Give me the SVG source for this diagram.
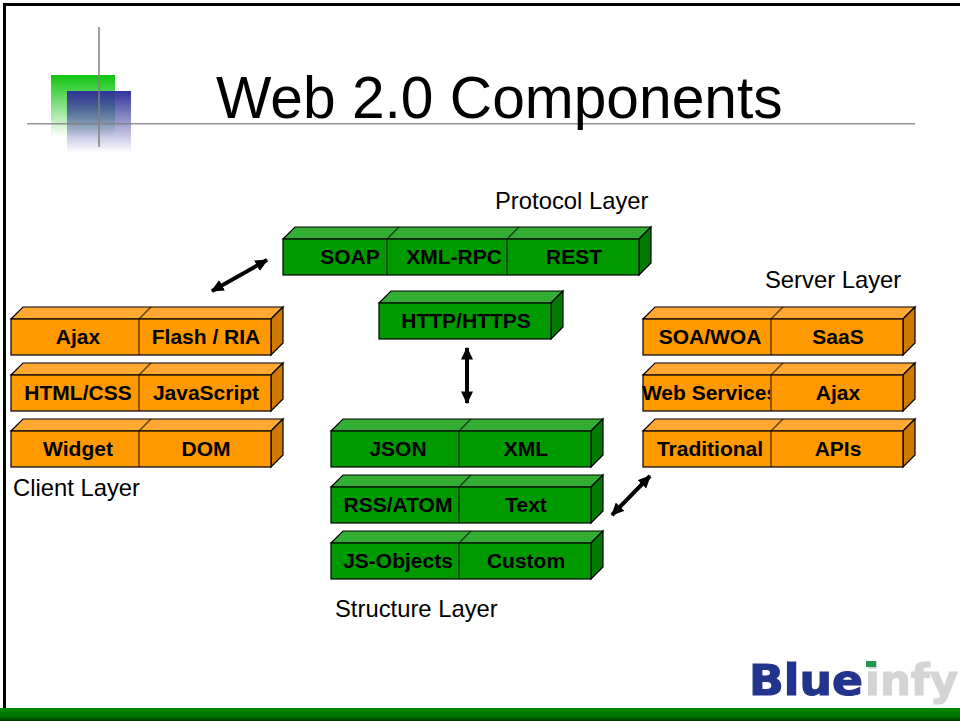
<svg xmlns="http://www.w3.org/2000/svg" width="960" height="721" viewBox="0 0 960 721">
<style>
text{font-family:"Liberation Sans",Arial,sans-serif;fill:#000}
.t{font-size:21px;font-weight:bold;text-anchor:middle}
.l{font-size:23.800px}
.f,.p,.s{stroke:#000;stroke-width:1.200;stroke-linejoin:miter}
.d{fill:none;stroke:#000;stroke-opacity:.6;stroke-width:1.500}
.o .f{fill:#ff9900}.o .p{fill:#ffa933}.o .s{fill:#cc7a00}
.g .f{fill:#009900}.g .p{fill:#33ad33}.g .s{fill:#007a00}
.arrow{fill:none;stroke:#000;stroke-width:4;marker-start:url(#a);marker-end:url(#a)}
</style>
<defs>
<marker id="a" markerWidth="3.200" markerHeight="3" refX="2.900" refY="1.500" orient="auto-start-reverse" markerUnits="strokeWidth"><path d="M0,0L3.200,1.500L0,3Z" fill="#000"/></marker>
<linearGradient id="gg" x1="0" y1="0" x2="0" y2="1"><stop offset="0" stop-color="#0ec40e"/><stop offset="1" stop-color="#0ec40e" stop-opacity="0"/></linearGradient>
<linearGradient id="bg" x1="0" y1="0" x2="0" y2="1"><stop offset="0" stop-color="#333399"/><stop offset="1" stop-color="#333399" stop-opacity="0"/></linearGradient>
<linearGradient id="bar" x1="0" y1="0" x2="0" y2="1"><stop offset="0" stop-color="#008a00"/><stop offset=".7" stop-color="#007000"/><stop offset="1" stop-color="#003a00"/></linearGradient>
<clipPath id="c2"><rect x="640" y="375" width="130" height="36"/></clipPath>
<filter id="soft" x="-5%" y="-5%" width="110%" height="110%"><feGaussianBlur stdDeviation="0.500"/></filter>
</defs>
<rect width="960" height="721" fill="#fff"/>
<g id="slide-frame">
<path d="M4.500,721V4.500H960" fill="none" stroke="#000" stroke-width="3"/>
<rect x="0" y="708" width="960" height="13" fill="url(#bar)"/>
</g>
<g id="decor">
<rect x="51" y="75" width="64" height="62" fill="url(#gg)"/>
<rect x="67" y="91" width="64" height="62" fill="url(#bg)"/>
<rect x="27" y="123" width="888" height="1.500" fill="#808080" opacity=".85"/>
<rect x="98" y="27" width="2" height="120" fill="#808080" opacity=".75"/>
</g>
<text id="title" x="216" y="118" font-size="58.700">Web 2.0 Components</text>

<g id="client-row1" class="o"><path class="p" d="M11,319L23,307H283L271,319Z"/><path class="s" d="M271,319L283,307V343L271,355Z"/><rect class="f" x="11" y="319" width="260" height="36"/><path class="d" d="M139,319V355M139,319L151,307"/><text class="t" x="78" y="344">Ajax</text><text class="t" x="206" y="344">Flash / RIA</text></g>
<g id="client-row2" class="o"><path class="p" d="M11,375L23,363H283L271,375Z"/><path class="s" d="M271,375L283,363V399L271,411Z"/><rect class="f" x="11" y="375" width="260" height="36"/><path class="d" d="M139,375V411M139,375L151,363"/><text class="t" x="78" y="400">HTML/CSS</text><text class="t" x="206" y="400">JavaScript</text></g>
<g id="client-row3" class="o"><path class="p" d="M11,431L23,419H283L271,431Z"/><path class="s" d="M271,431L283,419V455L271,467Z"/><rect class="f" x="11" y="431" width="260" height="36"/><path class="d" d="M139,431V467M139,431L151,419"/><text class="t" x="78" y="456">Widget</text><text class="t" x="206" y="456">DOM</text></g>
<text id="client-label" class="l" x="13" y="496">Client Layer</text>

<g id="protocol-row" class="g"><path class="p" d="M283,239L295,227H651L639,239Z"/><path class="s" d="M639,239L651,227V263L639,275Z"/><rect class="f" x="283" y="239" width="356" height="36"/><path class="d" d="M387,239V275M387,239L399,227M507,239V275M507,239L519,227"/><text class="t" x="350" y="264">SOAP</text><text class="t" x="454" y="264">XML-RPC</text><text class="t" x="574" y="264">REST</text></g>
<text id="protocol-label" class="l" x="495" y="209">Protocol Layer</text>
<g id="http" class="g"><path class="p" d="M379,303L391,291H563L551,303Z"/><path class="s" d="M551,303L563,291V327L551,339Z"/><rect class="f" x="379" y="303" width="172" height="36"/><text class="t" x="466" y="328">HTTP/HTTPS</text></g>

<g id="structure-row1" class="g"><path class="p" d="M331,431L343,419H603L591,431Z"/><path class="s" d="M591,431L603,419V455L591,467Z"/><rect class="f" x="331" y="431" width="260" height="36"/><path class="d" d="M459,431V467M459,431L471,419"/><text class="t" x="398" y="456">JSON</text><text class="t" x="526" y="456">XML</text></g>
<g id="structure-row2" class="g"><path class="p" d="M331,487L343,475H603L591,487Z"/><path class="s" d="M591,487L603,475V511L591,523Z"/><rect class="f" x="331" y="487" width="260" height="36"/><path class="d" d="M459,487V523M459,487L471,475"/><text class="t" x="398" y="512">RSS/ATOM</text><text class="t" x="526" y="512">Text</text></g>
<g id="structure-row3" class="g"><path class="p" d="M331,543L343,531H603L591,543Z"/><path class="s" d="M591,543L603,531V567L591,579Z"/><rect class="f" x="331" y="543" width="260" height="36"/><path class="d" d="M459,543V579M459,543L471,531"/><text class="t" x="398" y="568">JS-Objects</text><text class="t" x="526" y="568">Custom</text></g>
<text id="structure-label" class="l" x="335" y="617">Structure Layer</text>

<g id="server-row1" class="o"><path class="p" d="M643,319L655,307H915L903,319Z"/><path class="s" d="M903,319L915,307V343L903,355Z"/><rect class="f" x="643" y="319" width="260" height="36"/><path class="d" d="M771,319V355M771,319L783,307"/><text class="t" x="710" y="344">SOA/WOA</text><text class="t" x="838" y="344">SaaS</text></g>
<g id="server-row2" class="o"><path class="p" d="M643,375L655,363H915L903,375Z"/><path class="s" d="M903,375L915,363V399L903,411Z"/><rect class="f" x="643" y="375" width="260" height="36"/><path class="d" d="M771,375V411M771,375L783,363"/><text class="t" x="710" y="400" clip-path="url(#c2)">Web Services</text><text class="t" x="838" y="400">Ajax</text></g>
<g id="server-row3" class="o"><path class="p" d="M643,431L655,419H915L903,431Z"/><path class="s" d="M903,431L915,419V455L903,467Z"/><rect class="f" x="643" y="431" width="260" height="36"/><path class="d" d="M771,431V467M771,431L783,419"/><text class="t" x="710" y="456">Traditional</text><text class="t" x="838" y="456">APIs</text></g>
<text id="server-label" class="l" x="765" y="288">Server Layer</text>

<g id="connectors">
<path class="arrow" d="M212,291L267,260"/>
<path class="arrow" d="M467,348V403"/>
<path class="arrow" d="M612,515L650,476"/>
</g>
<g id="logo" filter="url(#soft)">
<text x="749" y="695" font-size="42" font-weight="bold" stroke="#24348c" stroke-width="1.200" style="font-family:'DejaVu Sans',sans-serif;fill:#24348c" textLength="114" lengthAdjust="spacingAndGlyphs">Blue</text>
<text x="865" y="695" font-size="42" font-weight="bold" stroke="#d4d4d4" stroke-width="1.200" style="font-family:'DejaVu Sans',sans-serif;fill:#d4d4d4" textLength="93" lengthAdjust="spacingAndGlyphs">infy</text>
<rect x="866" y="661" width="10" height="6" fill="#1a9a4a"/>
</g>
</svg>
